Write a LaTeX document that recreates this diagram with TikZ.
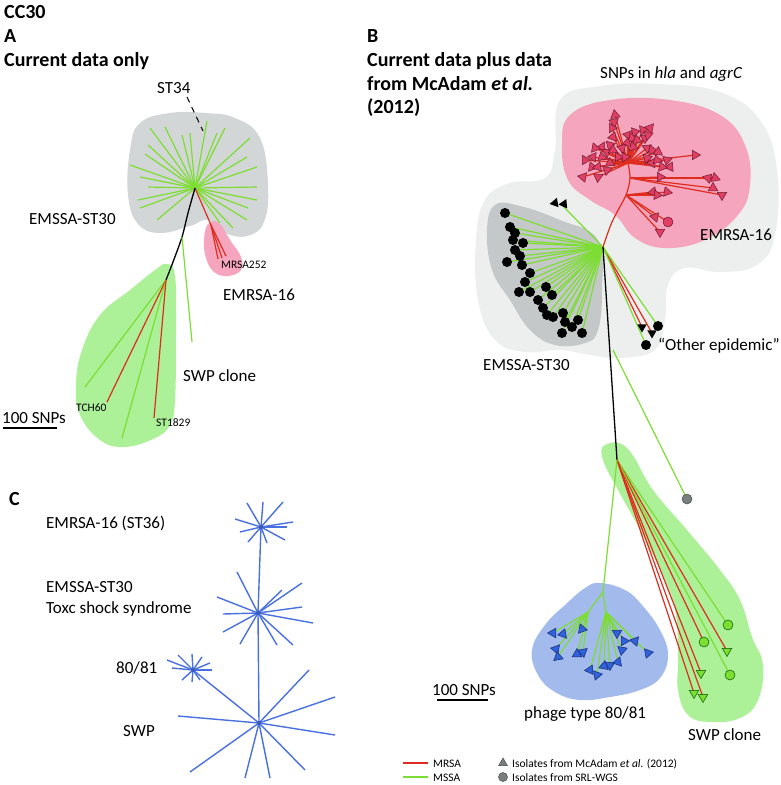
\documentclass[tikz,border=0pt]{standalone}
\usepackage{fontspec}
\setmainfont{Carlito}
\usetikzlibrary{shapes.geometric}
\definecolor{lgreen}{RGB}{125,222,50}
\definecolor{lred}{RGB}{222,45,30}
\definecolor{agray}{RGB}{210,214,214}
\definecolor{apink}{RGB}{246,165,190}
\definecolor{agreen}{RGB}{172,240,152}
\definecolor{bouter}{RGB}{236,239,237}
\definecolor{bdark}{RGB}{196,200,200}
\definecolor{bblue}{RGB}{162,186,236}
\definecolor{cblue}{RGB}{72,112,225}
\definecolor{tpink}{RGB}{224,62,100}
\definecolor{tpinkd}{RGB}{110,25,45}
\definecolor{tblue}{RGB}{48,98,220}
\definecolor{tblued}{RGB}{20,40,110}
\definecolor{mgray}{RGB}{120,126,126}
\newcommand\ftitle{\fontsize{20}{24}\selectfont\bfseries}
\newcommand\flab{\fontsize{17}{20}\selectfont}
\newcommand\fsmall{\fontsize{11.5}{14}\selectfont}
\begin{document}
\begin{tikzpicture}[x=1pt,y=-1pt,
  gl/.style={draw=lgreen, line width=1.2pt},
  rl/.style={draw=lred, line width=1.2pt},
  bl/.style={draw=black, line width=1.3pt},
  cl/.style={draw=cblue, line width=1.4pt},
  tri/.style={regular polygon, regular polygon sides=3, minimum size=11pt, inner sep=0pt, line width=0.5pt},
  pinktri/.style={tri, fill=tpink, draw=tpinkd},
  bluetri/.style={tri, fill=tblue, draw=tblued},
  greentri/.style={tri, fill=lgreen, draw=green!35!black},
  dot/.style={circle, minimum size=10pt, inner sep=0pt},
  title/.style={anchor=base west, inner sep=0pt, font=\ftitle},
  lab/.style={anchor=base west, inner sep=0pt, font=\flab},
  sml/.style={anchor=base west, inner sep=0pt, font=\fsmall},
]
\useasboundingbox (0,0) rectangle (780,785);

% ================= Panel A =================
\node[title] (tcc) at (4,18) {CC30};
\node[title] (ta) at (4,42) {A};
\node[title] (tat) at (4,66) {Current data only};

\fill[agray] plot[smooth cycle, tension=0.7] coordinates {(130,150) (140,123) (170,113) (205,113) (235,118) (260,138) (268,185) (264,222) (247,236) (225,233) (208,220) (190,226) (160,233) (138,224) (128,195)};
\fill[apink] plot[smooth cycle, tension=0.7] coordinates {(208,224) (219,223) (230,240) (241,257) (241,270) (228,276) (214,272) (206,258) (204,240)};
\fill[agreen] plot[smooth cycle, tension=0.7] coordinates {(167,264) (175,276) (176,330) (175,400) (170,425) (155,438) (125,447) (100,440) (80,415) (76,385) (82,350) (100,315) (130,290) (155,270)};

\coordinate (ca) at (195,188);
\coordinate (sa) at (166,280);
\coordinate (ma) at (182,237);
\coordinate (ra) at (211,225);
\foreach \x/\y in {150/128,165/127,182/135,190/133,207/121,217/133,225/128,250/138,148/145,145/154,130/165,140/177,148/187,138/200,140/208,157/220,247/157,257/167,257/187,257/200,248/208,247/220,233/228,220/223}
  \draw[gl] (ca) -- (\x,\y);
\draw[rl] (ca) -- (ra);
\foreach \x/\y in {218/259,222/258,226/256}
  \draw[rl] (ra) -- (\x,\y);
\draw[bl] plot[smooth] coordinates {(195,188) (188,213) (182,237) (173,262) (166,280)};
\draw[gl] (ma) -- (192,342);
\draw[gl] (sa) -- (85,387);
\draw[rl] (sa) -- (107,402);
\draw[gl] (sa) -- (122,438);
\draw[rl] (sa) -- (154,418);
\draw[black, line width=1pt, dash pattern=on 6pt off 5pt] (187,97) -- (203,131);

\node[lab] (st34) at (157,93) {ST34};
\node[lab] (emssaa) at (29,224) {EMSSA-ST30};
\node[sml] (mrsa252) at (221,268) {MRSA252};
\node[lab] (emrsaa) at (223,300) {EMRSA-16};
\node[lab] (swpa) at (183,381) {SWP clone};
\node[sml] (tch) at (76,411) {TCH60};
\node[sml] (st1829) at (156,426) {ST1829};
\node[lab] (snpa) at (2,423) {100 SNPs};
\draw[black, line width=1.2pt] (3,428) -- (57,428);

% ================= Panel C =================
\node[title] (tc) at (9,505) {C};
\node[lab] (c1) at (46,528) {EMRSA-16 (ST36)};
\node[lab] (c2) at (46,592) {EMSSA-ST30};
\node[lab] (c3) at (46,613) {Toxc shock syndrome};
\node[lab] (c4) at (116,673) {80/81};
\node[lab] (c5) at (123,736) {SWP};

\coordinate (s1) at (261,527);
\coordinate (s2) at (258,613);
\coordinate (s3) at (259,723);
\coordinate (s4) at (193,670);
\draw[cl] (s1) -- (s2) -- (s3);
\draw[cl] (s4) -- (s3);
\foreach \x/\y in {247/503,263/502,283/502,235/519,293/522,287/527,248/542,267/543,285/540,240/532}
  \draw[cl] (s1) -- (\x,\y);
\foreach \x/\y in {237/572,217/597,223/614,223/632,240/644,302/583,302/607,313/623,277/645,293/645,282/590}
  \draw[cl] (s2) -- (\x,\y);
\foreach \x/\y in {167/660,178/655,192/654,202/657,210/663,212/670,200/680,192/682,182/680,172/668}
  \draw[cl] (s4) -- (\x,\y);
\foreach \x/\y in {178/716,309/670,335/697,335/735,190/772,245/778,270/778,305/770}
  \draw[cl] (s3) -- (\x,\y);
\foreach \c in {s1,s2,s3,s4}
  \fill[cblue!80!black] (\c) circle (2pt);

% ================= Panel B =================
\node[title] (tb) at (367,42) {B};
\node[title] (tb1) at (367,66) {Current data plus data};
\node[title] (tb2) at (367,90) {from McAdam \textit{et al.}};
\node[title] (tb3) at (367,113) {(2012)};

\fill[bouter] plot[smooth cycle, tension=0.7] coordinates {(560,100) (600,86) (660,84) (720,92) (760,120) (777,170) (775,235) (757,265) (720,272) (685,268) (668,285) (665,320) (655,350) (620,358) (590,355) (560,350) (525,352) (495,340) (478,300) (476,240) (485,200) (510,183) (545,178) (555,150)};
\fill[apink] plot[smooth cycle, tension=0.7] coordinates {(570,115) (610,100) (670,100) (720,115) (745,145) (750,185) (738,215) (705,240) (665,248) (635,238) (615,215) (590,200) (568,180) (562,145)};
\fill[bdark] plot[smooth cycle, tension=0.7] coordinates {(495,205) (520,206) (560,220) (598,240) (602,290) (598,330) (585,343) (555,345) (530,330) (510,300) (492,270) (487,230)};
\fill[bblue] plot[smooth cycle, tension=0.7] coordinates {(600,583) (625,590) (642,605) (660,630) (668,655) (660,678) (640,690) (610,697) (580,700) (555,692) (538,675) (532,650) (545,625) (565,605) (585,588)};
\fill[agreen] plot[smooth cycle, tension=0.7] coordinates {(605,445) (627,448) (653,490) (687,530) (720,570) (740,600) (752,637) (763,665) (758,700) (740,718) (710,722) (688,715) (678,690) (678,660) (676,615) (665,580) (640,530) (618,490) (603,460)};

\coordinate (nb) at (603,247);
\coordinate (hb) at (628,163);
\coordinate (r1) at (630,178);
\coordinate (r2) at (626,195);
\coordinate (tb4) at (613,350);
\coordinate (swb) at (617,460);
\coordinate (phb) at (603,592);
\coordinate (pl) at (588,612);
\coordinate (pr) at (606,612);

% EMSSA cluster
\foreach \x/\y in {505/213,510/227,515/233,513/240,523/243,515/250,520/256,507/262,522/265,530/273,525/282,519/292,530/292,546/287,552/295,538/300,543/308,547/315,553/317,563/313,565/322,562/333,572/327,578/320,582/333}
  \draw[gl] (nb) -- (\x,\y);
\draw[gl] (nb) -- (560,203);
% other epidemic
\draw[rl] (nb) -- (642,327);
\draw[rl] (nb) -- (652,333);
\draw[gl] (nb) -- (658,326);
\draw[gl] (nb) -- (646,345);
% red tree
\draw[rl] plot[smooth] coordinates {(603,247) (612,222) (626,195) (630,178) (628,163)};
\foreach \x/\y in {615/115,614/122,612/128,613/137,635/132,643/130,650/128,628/135,632/138,637/140,645/138,648/135,627/143,633/147,622/148,610/145,602/147,595/148,585/160,593/157,602/157,607/152,613/150,618/157,625/157,583/177,592/167,598/167,598/177,607/170,610/163,647/148,652/150,658/152,647/158,652/163,657/160,667/160,670/167,662/167,695/155}
  \draw[rl] (hb) -- (\x,\y);
\foreach \x/\y in {660/177,708/178,715/178,713/188,722/195}
  \draw[rl] (r1) -- (\x,\y);
\foreach \x/\y in {653/192,657/195,667/192,655/217,660/232,668/222}
  \draw[rl] (r2) -- (\x,\y);
% trunk
\draw[bl] (nb) -- (swb);
\draw[gl] (tb4) -- (687,499);
% SWP
\draw[gl] (swb) -- (728,625);
\draw[rl] (swb) -- (704,642);
\draw[rl] (swb) -- (727,651);
\draw[gl] (swb) -- (730,675);
\draw[rl] (swb) -- (701,673);
\draw[rl] (swb) -- (694,693);
\draw[rl] (swb) -- (703,697);
% phage
\draw[gl] (swb) -- (phb);
\draw[gl] (phb) -- (pl);
\draw[gl] (phb) -- (pr);
\foreach \x/\y in {553/633,563/634,582/629,556/649,558/657,577/654,583/652}
  \draw[gl] (pl) -- (\x,\y);
\foreach \x/\y in {590/670,597/675,604/666,610/665,618/662,617/633,624/641,622/650,635/641,648/653}
  \draw[gl] (pr) -- (\x,\y);

% markers
\foreach \x/\y in {505/213,510/227,515/233,513/240,523/243,515/250,520/256,507/262,522/265,530/273,525/282,519/292,530/292,546/287,552/295,538/300,543/308,547/315,553/317,563/313,565/322,562/333,572/327,578/320,582/333,658/326,646/345}
  \node[dot, fill=black] at (\x,\y) {};
\node[tri, fill=black, rotate=100] at (555,203) {};
\node[tri, fill=black, rotate=95] at (564,204) {};
\node[tri, fill=black, rotate=180] at (642,327) {};
\node[tri, fill=black, rotate=180] at (652,333) {};
\foreach \x/\y/\r in {615/115/10,614/122/70,612/128/30,613/137/100,635/132/160,643/130/40,650/128/200,628/135/80,632/138/20,637/140/130,645/138/60,648/135/170,627/143/110,633/147/15,622/148/75,610/145/45,602/147/95,595/148/140,585/160/30,593/157/85,602/157/10,607/152/60,613/150/120,618/157/150,625/157/35,583/177/80,592/167/20,598/167/100,598/177/55,607/170/170,610/163/5,647/148/65,652/150/25,658/152/115,647/158/45,652/163/90,657/160/135,667/160/50,670/167/95,662/167/20,695/155/150,660/177/30,708/178/75,715/178/10,713/188/120,722/195/60,653/192/100,657/195/25,667/192/140,655/217/80,660/232/180}
  \node[pinktri, rotate=\r] at (\x,\y) {};
\node[dot, fill=tpink, draw=tpinkd, line width=0.5pt] at (668,222) {};
\node[dot, fill=mgray, draw=black!70, line width=0.5pt] at (687,499) {};
\foreach \x/\y in {728/625,704/642,730/675}
  \node[dot, fill=lgreen, draw=green!35!black, line width=0.5pt] at (\x,\y) {};
\foreach \x/\y in {727/651,701/673,694/693,703/697}
  \node[greentri, rotate=180] at (\x,\y) {};
\foreach \x/\y/\r in {553/633/90,563/634/100,582/629/20,556/649/80,558/657/10,577/654/120,583/652/70,590/670/95,597/675/40,604/666/110,610/665/60,618/662/100,617/633/180,624/641/150,622/650/170,635/641/200,648/653/160}
  \node[bluetri, rotate=\r] at (\x,\y) {};

% texts
\node[lab] (snpb) at (600,78) {SNPs in \textit{hla} and \textit{agrC}};
\node[lab] (emrsab) at (700,240) {EMRSA-16};
\node[lab] (emssab) at (483,370) {EMSSA-ST30};
\node[lab] (other) at (658,350) {“Other epidemic”};
\node[lab] (scaleb) at (432,695) {100 SNPs};
\draw[black, line width=1.2pt] (437,700) -- (488,700);
\node[lab] (phage) at (524,718) {phage type 80/81};
\node[lab] (swpb) at (688,740) {SWP clone};

% legend
\coordinate (lg1a) at (403,763); \coordinate (lg1b) at (428,763);
\coordinate (lg2a) at (403,777); \coordinate (lg2b) at (428,777);
\draw[rl] (lg1a) -- (lg1b);
\draw[gl] (lg2a) -- (lg2b);
\node[sml] (lmrsa) at (433,767) {MRSA};
\node[sml] (lmssa) at (433,781) {MSSA};
\node[tri, fill=mgray, draw=black!70, minimum size=10pt] at (503,763) {};
\node[dot, fill=mgray, draw=black!70, line width=0.5pt, minimum size=9pt] at (503,777) {};
\node[sml] (liso1) at (512,767) {Isolates from McAdam \textit{et al.} (2012)};
\node[sml] (liso2) at (512,781) {Isolates from SRL-WGS};
\end{tikzpicture}
\end{document}
